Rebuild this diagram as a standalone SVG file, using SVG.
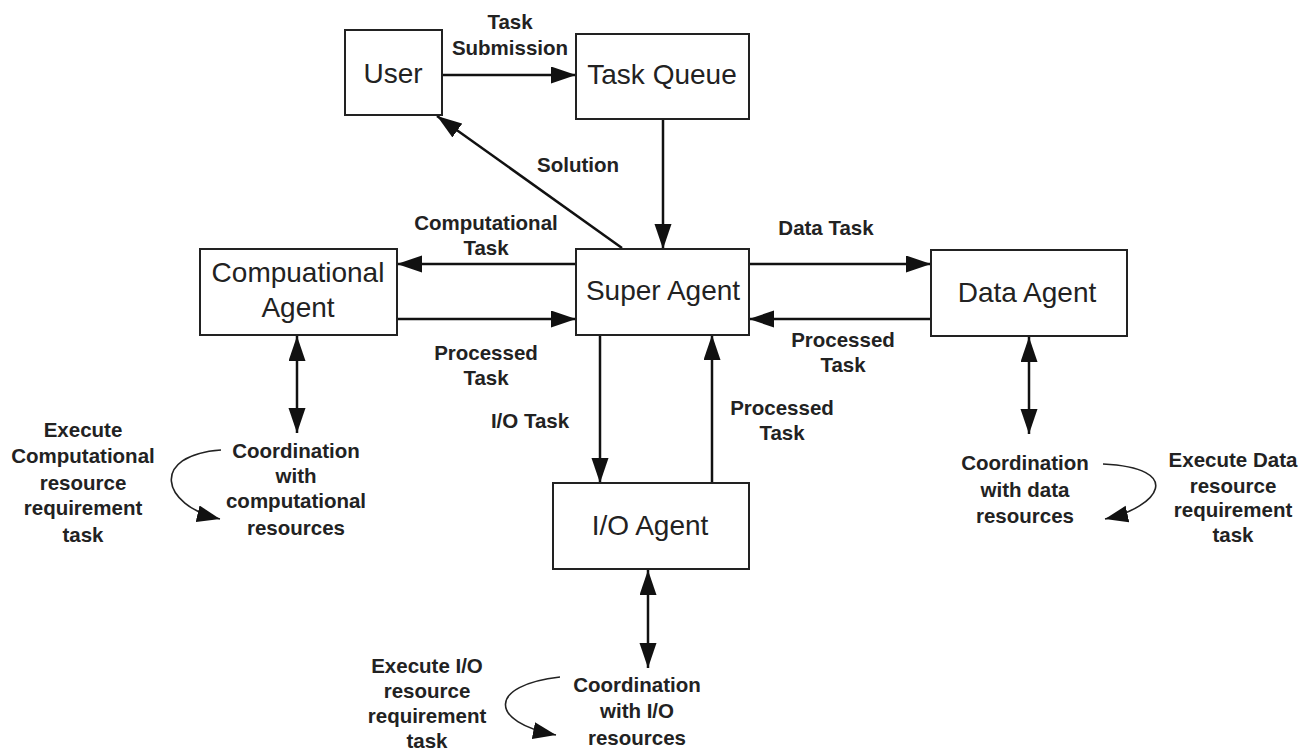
<svg xmlns="http://www.w3.org/2000/svg" width="1313" height="751" viewBox="0 0 1313 751">
<style>
.box{fill:#fff;stroke:#222;stroke-width:2}
.nt{font-family:"Liberation Sans",Arial,sans-serif;font-size:28px;fill:#222;text-anchor:middle}
.lb{font-family:"Liberation Sans",Arial,sans-serif;font-size:20.5px;font-weight:bold;fill:#222;text-anchor:middle}
.ar{fill:none;stroke:#111;stroke-width:2.5;marker-end:url(#ah)}
.dar{fill:none;stroke:#111;stroke-width:2.5;marker-end:url(#ah);marker-start:url(#ah)}
.cv{fill:none;stroke:#222;stroke-width:1.6;marker-end:url(#ah2)}
</style>
<defs>
<marker id="ah" markerUnits="userSpaceOnUse" markerWidth="26" markerHeight="18" refX="25" refY="8.5" orient="auto-start-reverse" viewBox="0 0 26 18">
<path d="M0,0 L25,8.5 L0,17 z" fill="#111"/>
</marker>
<marker id="ah2" markerUnits="userSpaceOnUse" markerWidth="26" markerHeight="18" refX="23" refY="8.5" orient="auto" viewBox="0 0 26 18">
<path d="M0,0 L23,8.5 L0,17 z" fill="#111"/>
</marker>
</defs>
<rect width="1313" height="751" fill="#fff"/>
<g id="connectors">
<line class="ar" x1="442" y1="75" x2="576" y2="75"/>
<line class="ar" x1="622" y1="248" x2="437" y2="116"/>
<line class="ar" x1="663" y1="119" x2="663" y2="249"/>
<line class="ar" x1="576" y1="264" x2="397" y2="264"/>
<line class="ar" x1="397" y1="319" x2="576" y2="319"/>
<line class="ar" x1="749" y1="264" x2="931" y2="264"/>
<line class="ar" x1="931" y1="319" x2="749" y2="319"/>
<line class="ar" x1="600" y1="335" x2="600" y2="483"/>
<line class="ar" x1="712" y1="483" x2="712" y2="335"/>
<line class="dar" x1="297" y1="336" x2="297" y2="433"/>
<line class="dar" x1="1029" y1="337" x2="1029" y2="434"/>
<line class="dar" x1="648" y1="570" x2="648" y2="668"/>
<path class="cv" d="M221,450 C150,455 160,505 220,519"/>
<path class="cv" d="M1103,464 C1185,468 1160,507 1105,519"/>
<path class="cv" d="M560,677 C488,685 488,722 556,735"/>
<text class="lb" x="510" y="29">Task</text>
<text class="lb" x="510" y="55">Submission</text>
<text class="lb" x="578" y="172">Solution</text>
<text class="lb" x="486" y="230">Computational</text>
<text class="lb" x="486" y="255">Task</text>
<text class="lb" x="486" y="360">Processed</text>
<text class="lb" x="486" y="385">Task</text>
<text class="lb" x="826" y="235">Data Task</text>
<text class="lb" x="843" y="347">Processed</text>
<text class="lb" x="843" y="372">Task</text>
<text class="lb" x="530" y="428">I/O Task</text>
<text class="lb" x="782" y="415">Processed</text>
<text class="lb" x="782" y="440">Task</text>
</g>
<g id="user"><rect class="box" x="345" y="30" width="97" height="85"/><text class="nt" x="393" y="83">User</text></g>
<g id="taskqueue"><rect class="box" x="576" y="34" width="173" height="85"/><text class="nt" x="662" y="84">Task Queue</text></g>
<g id="compagent"><rect class="box" x="200" y="249" width="197" height="86"/><text class="nt" x="298" y="282">Compuational</text><text class="nt" x="298" y="317">Agent</text></g>
<g id="superagent"><rect class="box" x="576" y="249" width="173" height="86"/><text class="nt" x="663" y="300">Super Agent</text></g>
<g id="dataagent"><rect class="box" x="931" y="250" width="196" height="86"/><text class="nt" x="1027" y="302">Data Agent</text></g>
<g id="ioagent"><rect class="box" x="553" y="483" width="196" height="86"/><text class="nt" x="650" y="535">I/O Agent</text></g>
<g id="compcoord"><text class="lb"><tspan x="296" y="458">Coordination</tspan><tspan x="296" y="483">with</tspan><tspan x="296" y="508">computational</tspan><tspan x="296" y="535">resources</tspan></text></g>
<g id="compexec"><text class="lb"><tspan x="83" y="437">Execute</tspan><tspan x="83" y="463">Computational</tspan><tspan x="83" y="490">resource</tspan><tspan x="83" y="515">requirement</tspan><tspan x="83" y="542">task</tspan></text></g>
<g id="datacoord"><text class="lb"><tspan x="1025" y="470">Coordination</tspan><tspan x="1025" y="497">with data</tspan><tspan x="1025" y="523">resources</tspan></text></g>
<g id="dataexec"><text class="lb"><tspan x="1233" y="467">Execute Data</tspan><tspan x="1233" y="493">resource</tspan><tspan x="1233" y="517">requirement</tspan><tspan x="1233" y="542">task</tspan></text></g>
<g id="iocoord"><text class="lb"><tspan x="637" y="692">Coordination</tspan><tspan x="637" y="718">with I/O</tspan><tspan x="637" y="745">resources</tspan></text></g>
<g id="ioexec"><text class="lb"><tspan x="427" y="673">Execute I/O</tspan><tspan x="427" y="698">resource</tspan><tspan x="427" y="723">requirement</tspan><tspan x="427" y="748">task</tspan></text></g>
</svg>
